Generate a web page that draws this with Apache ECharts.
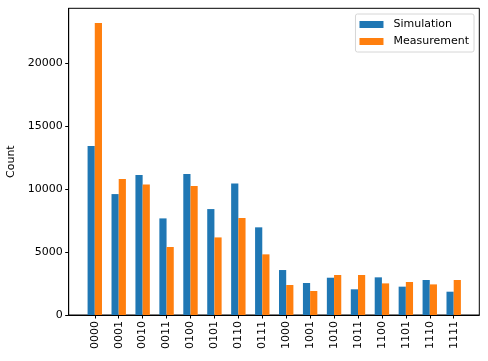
<!DOCTYPE html>
<html><head><meta charset="utf-8">
<script src="https://cdn.jsdelivr.net/npm/echarts@6/dist/echarts.min.js"></script>
<style>html,body{margin:0;padding:0;background:#fff}#c{width:488px;height:361px}</style>
</head><body><div id="c"></div>
<script>
const categories = ['0000','0001','0010','0011','0100','0101','0110','0111','1000','1001','1010','1011','1100','1101','1110','1111'];
const simulation = [13410, 9600, 11110, 7670, 11190, 8410, 10450, 6960, 3570, 2540, 2960, 2040, 2990, 2250, 2780, 1850];
const measurement = [23180, 10790, 10370, 5400, 10240, 6160, 7700, 4815, 2380, 1905, 3175, 3175, 2510, 2620, 2430, 2780];
const yTicks = [0, 5000, 10000, 15000, 20000];

const font = 'DejaVu Sans';
const chart = echarts.init(document.getElementById('c'), null, {renderer: 'canvas'});
const idx = categories.map((_, i) => i);
chart.setOption({
  animation: false,
  textStyle: {fontFamily: font},
  grid: {left: 68.7, right: 8.7, top: 8.3, bottom: 46, show: true, borderColor: '#000', borderWidth: 1,
         containLabel: false, outerBoundsMode: 'none'},
  legend: {
    orient: 'vertical', right: 14, top: 14,
    data: ['Simulation', 'Measurement'],
    icon: 'rect', itemWidth: 24, itemHeight: 7, itemGap: 6,
    padding: [5, 5, 5, 4],
    borderColor: '#d6d6d6', borderWidth: 1, borderRadius: 2,
    backgroundColor: 'rgba(255,255,255,0.8)',
    textStyle: {fontFamily: font, fontSize: 11, color: '#000', padding: [0, 0, 0, 5]}
  },
  xAxis: {
    type: 'value', min: -1.09, max: 16.07,
    splitLine: {show: false},
    axisLine: {show: true, onZero: false, lineStyle: {color: '#000', width: 1}},
    axisTick: {show: true, customValues: idx, length: 3.5, lineStyle: {color: '#000'}},
    axisLabel: {show: true, customValues: idx, rotate: 90, fontSize: 11, color: '#000', fontFamily: font, margin: 6,
      formatter: v => categories[Math.round(v)]}
  },
  yAxis: {
    type: 'value', min: 0, max: 24350, interval: 5000,
    name: 'Count', nameLocation: 'middle', nameGap: 48, nameRotate: 90,
    nameTextStyle: {fontSize: 11, color: '#000', fontFamily: font},
    splitLine: {show: false},
    axisLine: {show: true, onZero: false, lineStyle: {color: '#000', width: 1}},
    axisTick: {show: true, length: 3.5, lineStyle: {color: '#000'}},
    axisLabel: {fontSize: 11, color: '#000', fontFamily: font, margin: 6, showMaxLabel: false,
      formatter: v => yTicks.includes(v) ? String(v) : ''}
  },
  series: [
    {name: 'Simulation', type: 'bar', barWidth: 7.2, barGap: '0%', itemStyle: {color: '#1f77b4'},
     data: simulation.map((v, i) => [i, v])},
    {name: 'Measurement', type: 'bar', barWidth: 7.2, barGap: '0%', itemStyle: {color: '#ff7f0e'},
     data: measurement.map((v, i) => [i, v])}
  ]
});
</script></body></html>
